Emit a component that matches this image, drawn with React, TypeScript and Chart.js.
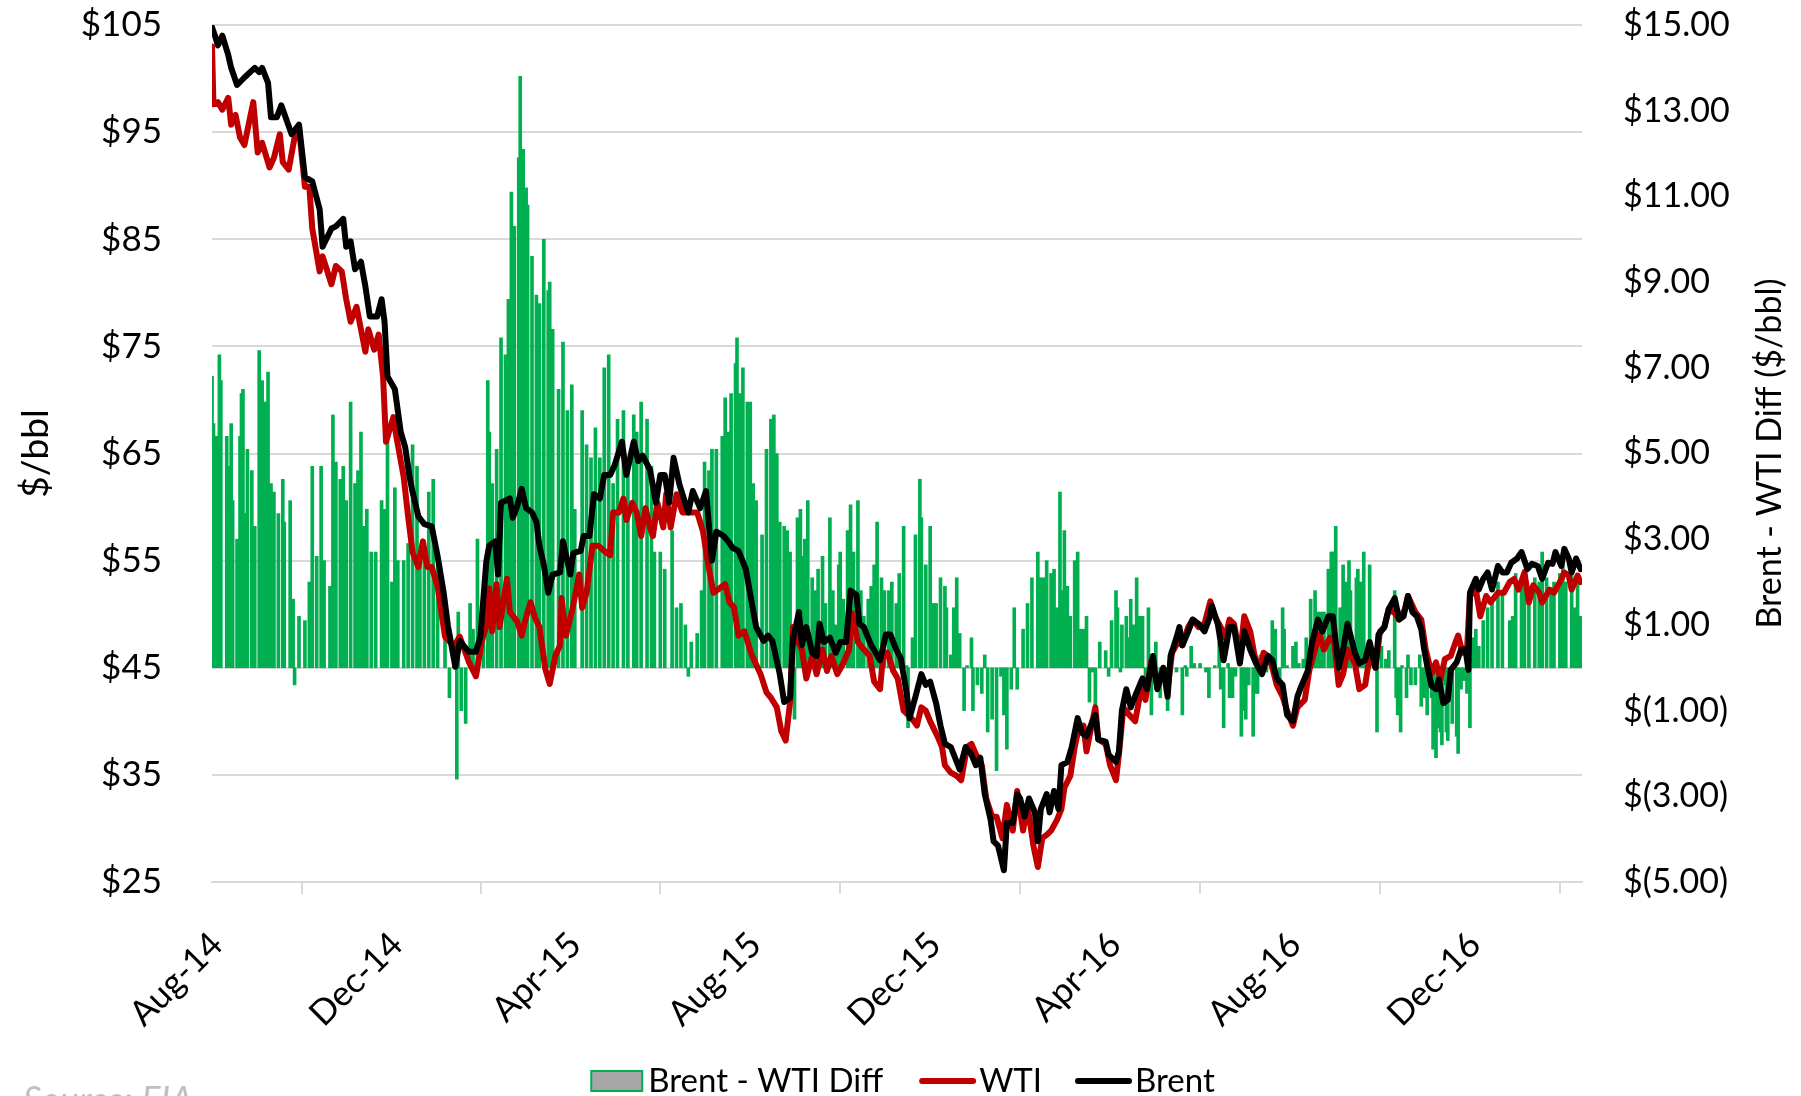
import React, { useEffect, useRef } from "react";
import { Chart, registerables } from "chart.js";

Chart.register(...registerables);

const FONT = "Lato, 'Open Sans', 'DejaVu Sans', sans-serif";

// x positions are days counted from 1 Aug 2014
const xTickDays = [0, 122, 243, 365, 487, 609, 731, 853];
const xTickLabels = ["Aug-14", "Dec-14", "Apr-15", "Aug-15", "Dec-15", "Apr-16", "Aug-16", "Dec-16"];
const xLastDay = 929;

const brentDays = [
  0, 2, 4, 7, 11, 13, 17, 22, 29, 32,
  34, 38, 40, 44, 47, 54, 59, 63, 68, 73,
  75, 81, 84, 89, 91, 94, 97, 101, 104, 107,
  112, 115, 117, 119, 124, 128, 131, 134, 136, 140,
  144, 149, 153, 157, 160, 165, 168, 174, 179, 182,
  186, 188, 192, 194, 196, 202, 204, 207, 210, 213,
  217, 220, 222, 225, 228, 231, 236, 238, 243, 245,
  250, 252, 256, 259, 263, 266, 270, 273, 278, 281,
  286, 289, 292, 297, 301, 304, 307, 310, 313, 317,
  319, 323, 326, 331, 335, 339, 342, 347, 350, 353,
  357, 362, 366, 369, 374, 377, 380, 385, 388, 392,
  394, 398, 400, 403, 407, 410, 412, 415, 419, 423,
  426, 430, 433, 437, 439, 442, 447, 450, 453, 457,
  460, 464, 467, 471, 473, 477, 481, 484, 487, 491,
  494, 497, 501, 503, 507, 511, 515, 518, 521, 524,
  528, 530, 533, 537, 539, 543, 546, 548, 551, 554,
  558, 560, 562, 566, 568, 571, 574, 576, 580, 583,
  587, 590, 593, 597, 599, 601, 606, 608, 613, 615,
  617, 620, 623, 627, 631, 634, 638, 641, 645, 648,
  650, 654, 656, 658, 662, 665, 669, 673, 676, 678,
  682, 686, 690, 693, 697, 700, 704, 708, 712, 716,
  719, 722, 726, 729, 733, 736, 739, 743, 746, 750,
  753, 757, 760, 764, 767, 770, 775, 778, 782, 785,
  789, 791, 795, 798, 802, 805, 808, 811, 814, 817,
  820, 822, 824, 827, 830, 832, 835, 838, 840, 844,
  847, 850, 852, 853, 857, 859, 862, 865, 868, 872,
  875, 878, 881, 885, 888, 892, 895, 899, 902, 906,
  909, 911, 915, 917, 920, 922, 925, 928,
];
const brentPrices = [
  104.8, 104, 103.1, 104, 102.2, 101, 99.4, 100.1, 101, 100.6,
  101, 99.6, 96.4, 96.4, 97.5, 94.8, 95.7, 90.8, 90.4, 87.8,
  84.3, 86, 86.2, 86.9, 84.3, 84.8, 82.2, 82.9, 80.6, 77.8,
  77.8, 79.4, 77.3, 72.2, 71, 67, 65.6, 62.8, 61.4, 59.1,
  58.4, 58.2, 55.4, 52.1, 48.9, 45.1, 47.5, 46.5, 46.5, 47.9,
  54.9, 56.4, 56.8, 53.7, 60.4, 60.8, 59, 60.1, 61.7, 59.9,
  59.5, 58.6, 56.4, 54.6, 52, 53.7, 53.9, 56.8, 53.7, 55.7,
  55.9, 57.3, 57.3, 61.2, 60.8, 63, 63, 63.9, 66.1, 63,
  66.1, 64.3, 64.8, 63.5, 60.4, 63, 63, 60.4, 64.6, 62.1,
  61.2, 59.5, 61.5, 59.9, 61.5, 55, 57.7, 57.3, 56.8, 56.2,
  55.9, 54.2, 51.1, 48.8, 47.5, 48, 47.5, 44.4, 41.8, 42.2,
  47.7, 50.2, 47.1, 48.8, 46.4, 46.1, 49.1, 47.4, 47.8, 46.4,
  47.4, 47.4, 52.2, 51.8, 49.1, 48.8, 47.1, 46.4, 45.7, 48.1,
  48.1, 46.7, 45.9, 42.7, 40.3, 42.3, 44.4, 43.4, 43.7, 41.7,
  39.6, 37.9, 37.6, 36.9, 35.5, 37.6, 36.9, 35.9, 36.6, 33.2,
  30.8, 28.8, 28.4, 26.1, 30.5, 30.5, 33.2, 32.8, 31.1, 32.8,
  31.5, 28.8, 31.8, 33.2, 31.5, 33.5, 31.8, 35.9, 36.2, 37.6,
  40.3, 38.9, 38.6, 40, 40.6, 38.3, 38.1, 36.9, 36.2, 37.2,
  41, 43, 41.3, 42.7, 44, 43, 46.1, 43, 45, 42.3,
  46.1, 47.8, 48.8, 47.1, 48.4, 49.5, 49.1, 48.4, 49.5, 50.8,
  49.1, 45.7, 48.8, 48.8, 45.4, 48.4, 46.7, 45.4, 44.4, 46.1,
  45.7, 44, 43.4, 40.6, 40, 42.3, 43.4, 44.7, 47.4, 49.5,
  48.4, 49.8, 49.8, 45, 46.7, 49.1, 46.4, 45.4, 45.7, 47.4,
  45, 48.1, 48.8, 50.5, 51.5, 49.5, 49.8, 51.7, 50.2, 49.8,
  48.6, 46.7, 45.2, 43.3, 43, 43.9, 41.7, 42, 44.8, 45.5,
  46.7, 46.7, 44.8, 52, 53.3, 52.3, 53.3, 53.9, 52.3, 54.5,
  53.9, 53.9, 54.8, 55.2, 55.8, 54.2, 54.7, 54.5, 53.3, 54.8,
  54.7, 55.8, 54.5, 56.1, 55.2, 53.9, 55.2, 54.2,
];

const wtiDays = [
  0, 1, 4, 7, 11, 13, 16, 19, 22, 28,
  31, 34, 39, 42, 46, 48, 52, 56, 59, 63,
  66, 68, 73, 75, 81, 84, 88, 91, 94, 98,
  104, 106, 110, 113, 116, 118, 123, 125, 130, 133,
  136, 140, 143, 146, 149, 153, 158, 164, 168, 174,
  179, 183, 186, 188, 190, 193, 195, 200, 202, 207,
  210, 213, 216, 219, 222, 226, 229, 233, 236, 237,
  240, 244, 249, 251, 254, 258, 262, 266, 270, 272,
  276, 279, 281, 285, 288, 291, 294, 297, 299, 302,
  306, 308, 311, 315, 319, 324, 329, 333, 336, 340,
  344, 348, 351, 354, 357, 361, 366, 369, 372, 376,
  379, 383, 386, 389, 392, 394, 396, 400, 403, 407,
  410, 414, 417, 420, 424, 428, 432, 434, 438, 442,
  446, 449, 453, 455, 458, 462, 465, 469, 472, 476,
  478, 481, 484, 487, 492, 495, 497, 501, 505, 508,
  512, 515, 519, 522, 525, 529, 532, 536, 539, 543,
  546, 550, 553, 557, 560, 563, 566, 569, 573, 576,
  578, 582, 585, 587, 591, 593, 597, 599, 601, 606,
  609, 613, 615, 618, 622, 626, 630, 633, 637, 641,
  645, 648, 651, 655, 658, 662, 665, 669, 673, 677,
  680, 684, 687, 690, 693, 697, 700, 704, 707, 711,
  713, 716, 719, 722, 726, 729, 733, 736, 741, 744,
  748, 751, 754, 758, 761, 764, 767, 770, 775, 778,
  782, 785, 789, 792, 795, 798, 802, 805, 809, 811,
  816, 820, 823, 827, 830, 833, 836, 840, 843, 845,
  848, 851, 853, 857, 860, 864, 867, 872, 876, 880,
  883, 886, 890, 893, 896, 900, 902, 907, 910, 914,
  917, 920, 922, 926, 928,
];
const wtiPrices = [
  103, 97.6, 97.8, 97.1, 98.2, 95.7, 96.6, 94.5, 93.8, 97.8,
  93.1, 94, 91.7, 92.6, 94.8, 92.2, 91.5, 94.5, 95.4, 89.9,
  89.9, 86, 82, 83.4, 80.8, 82.5, 82, 79.4, 77.3, 78.7,
  74.5, 76.6, 74.7, 76.1, 72.2, 66.1, 68.4, 66.6, 62.8, 59.1,
  55.8, 54.4, 56.8, 54.4, 54.4, 52.6, 47.9, 47, 47.9, 45.6,
  44.2, 47.5, 48.9, 52.4, 48.4, 52.8, 48.8, 53.3, 50.2, 49.3,
  48, 49.7, 51.1, 49.7, 48.8, 44.9, 43.5, 46.2, 47.1, 51.5,
  48, 50.2, 53.7, 50.6, 52, 56.4, 56.4, 55.9, 55.5, 59.5,
  59.5, 60.8, 58.8, 60.4, 59.5, 57.3, 59.9, 58.1, 57.3, 60.4,
  58.1, 61.2, 58.1, 61.2, 59.5, 59.5, 59.5, 57.7, 55, 52,
  52.4, 52.8, 51.1, 50.6, 48, 48.4, 46.2, 45.3, 44.4, 42.7,
  42.2, 41.3, 39.1, 38.2, 41.8, 48.8, 47.8, 46.7, 44, 46.1,
  44.4, 46.7, 44.7, 46.1, 44.4, 45.4, 46.7, 50.1, 47.4, 46.7,
  46.1, 43.7, 43, 46.1, 46.4, 44.7, 44, 41, 40.6, 40,
  39.6, 41.3, 41, 40, 38.6, 37.6, 35.9, 35.2, 34.9, 34.5,
  37.6, 37.9, 36.6, 35.9, 32.8, 31.1, 31.1, 29.1, 32.2, 29.8,
  33.5, 29.8, 32.2, 28.4, 26.4, 29.1, 29.4, 29.8, 30.8, 31.8,
  33.8, 34.9, 37.6, 38.9, 39.6, 37.2, 40, 41.3, 38.3, 37.9,
  35.9, 34.5, 36.9, 41.3, 40.6, 40, 43, 42, 45.7, 43.4,
  44.7, 43, 46.4, 47.4, 47.1, 48.8, 49.5, 48.8, 49.1, 51.2,
  49.8, 48.8, 47.8, 49.5, 49.1, 46.1, 49.8, 48.4, 46.1, 44.7,
  46.4, 46.1, 45, 43.4, 42.3, 41, 39.6, 41.3, 42, 44.7,
  46.7, 48.1, 46.7, 47.8, 47.4, 43.4, 44.4, 46.7, 45.4, 43,
  43.4, 46.1, 45, 48.4, 48.8, 50.5, 50.1, 49.5, 50.5, 51.7,
  50.2, 49.5, 46.7, 44.5, 45.5, 43.9, 45.8, 46.1, 47.3, 48,
  46.4, 46.7, 51.7, 52.3, 49.8, 51.7, 51.1, 52, 52, 53,
  53.3, 52.3, 53.9, 51.1, 52.7, 52, 51.1, 52.3, 52, 53,
  53.9, 53.6, 52.3, 53.6, 53,
];

const diffDays = [
  0, 1, 3, 5, 6, 10, 12, 13, 14, 17,
  19, 20, 21, 23, 24, 27, 29, 32, 34, 36,
  38, 40, 42, 45, 48, 49, 53, 55, 56, 59,
  63, 66, 68, 71, 74, 76, 80, 82, 84, 87,
  89, 91, 94, 97, 99, 101, 103, 105, 108, 111,
  115, 117, 119, 122, 124, 126, 130, 133, 136, 139,
  141, 144, 147, 150, 153, 158, 161, 164, 166, 167,
  169, 172, 175, 177, 180, 184, 187, 188, 190, 193,
  196, 199, 201, 203, 205, 208, 209, 211, 213, 214,
  217, 220, 222, 225, 228, 229, 231, 235, 238, 241,
  244, 246, 251, 254, 257, 260, 263, 266, 269, 272,
  275, 279, 282, 286, 288, 291, 295, 298, 300, 304,
  307, 312, 315, 318, 321, 323, 325, 329, 332, 334,
  337, 339, 342, 346, 348, 350, 352, 355, 356, 358,
  360, 363, 365, 367, 369, 373, 376, 379, 381, 383,
  385, 388, 390, 392, 395, 397, 399, 400, 402, 404,
  407, 409, 411, 414, 416, 419, 421, 423, 425, 426,
  428, 431, 433, 435, 438, 440, 442, 445, 447, 449,
  451, 454, 456, 459, 461, 464, 466, 469, 471, 472,
  475, 477, 480, 481, 484, 487, 489, 491, 494, 497,
  498, 501, 503, 505, 507, 510, 512, 515, 516, 519,
  522, 524, 526, 529, 532, 535, 537, 539, 542, 544,
  546, 550, 553, 556, 560, 562, 564, 566, 569, 571,
  573, 575, 577, 578, 580, 582, 585, 587, 589, 591,
  593, 595, 597, 599, 602, 606, 608, 610, 613, 614,
  616, 617, 620, 622, 623, 625, 627, 629, 631, 633,
  635, 637, 640, 643, 646, 648, 650, 654, 658, 660,
  661, 664, 666, 670, 674, 676, 680, 683, 684, 686,
  689, 690, 692, 694, 698, 699, 701, 703, 706, 707,
  709, 711, 715, 719, 721, 724, 726, 727, 729, 733,
  735, 737, 740, 742, 745, 748, 750, 752, 754, 757,
  759, 760, 762, 765, 767, 769, 771, 772, 776, 777,
  779, 781, 785, 788, 790, 793, 796, 798, 802, 803,
  804, 806, 807, 810, 811, 813, 816, 819, 820, 822,
  824, 827, 828, 830, 831, 833, 834, 836, 837, 838,
  840, 841, 844, 845, 847, 849, 851, 853, 854, 855,
  857, 859, 862, 865, 868, 872, 875, 880, 882, 884,
  888, 890, 893, 897, 900, 902, 905, 908, 910, 914,
  916, 918, 922, 924, 926, 928,
];
const diffValues = [
  6.8, 5.7, 5.4, 7.3, 6.7, 5.4, 4.7, 5.7, 3.9, 3.0,
  5.4, 6.4, 6.5, 3.6, 5.1, 4.6, 3.3, 7.4, 6.7, 6.2,
  6.9, 4.3, 4.1, 3.6, 4.4, 3.4, 3.9, 1.6, -0.4, 1.2,
  1.1, 2.0, 4.7, 2.6, 4.7, 2.5, 1.9, 5.9, 4.8, 4.4,
  4.7, 3.9, 6.2, 4.3, 4.6, 5.5, 3.3, 3.7, 2.7, 2.7,
  3.9, 3.7, 5.3, 2.0, 4.2, 2.5, 2.5, 2.9, 5.2, 4.7,
  2.5, 2.6, 4.1, 4.4, 2.4, 1.6, -0.7, 0.2, -2.6, 1.3,
  -1.0, -1.3, 1.5, 0.9, 3.0, 0.8, 6.7, 5.5, 4.3, 5.1,
  7.7, 7.3, 8.6, 11.1, 10.3, 11.9, 13.8, 12.1, 11.2, 10.8,
  9.6, 8.7, 8.5, 10, 8.8, 9, 7.9, 6.5, 7.6, 6.0,
  6.6, 3.7, 6.0, 5.2, 4.9, 5.6, 4.9, 7.0, 7.3, 4.3,
  5.8, 6.0, 4.6, 5.9, 5.5, 6.2, 5.8, 4.7, 2.7, 2.7,
  2.3, 3.2, 1.4, 1.5, 1.0, -0.2, 0.6, 0.8, 1.8, 4.8,
  4.6, 5.1, 5.1, 5.4, 6.3, 5.5, 6.4, 7.1, 7.7, 6.4,
  7.0, 6.2, 6.2, 4.3, 3.9, 3.1, 5.1, 5.8, 5.9, 5.0,
  3.4, 3.3, 3.2, 2.7, -1.2, 3.5, 3.7, 2.6, 3.0, 3.9,
  2.1, 1.8, 2.3, 2.6, 1.5, 3.5, 1.8, 1.0, 2.4, 2.7,
  1.6, 3.2, 3.8, 2.7, 3.9, 1.8, 1.2, 1.6, 1.9, 2.4,
  3.4, 2.1, 1.8, 1.8, 2.0, 1.5, 2.2, 3.3, 0.05, -1.4,
  0.7, 3.1, 4.4, 3.5, 2.4, 3.3, 1.5, 1.5, 2.1, 1.9,
  1.4, 0.3, 1.4, 2.1, 0.8, -1.0, 0.05, 0.7, -1.0, -0.4,
  -0.6, 0.3, -1.5, -1.2, -2.4, -0.2, -1.1, -1.9, -0.5, 1.4,
  -0.5, 0.9, 1.5, 2.1, 2.7, 2.1, 2.1, 2.5, 2.2, 2.3,
  1.4, 4.1, 1.8, 3.2, 1.9, 1.2, 2.5, 2.7, 0.9, 0.9,
  1.2, -0.8, -0.1, -0.9, 0.6, 0.4, -0.2, 1.1, 1.8, 1.4,
  -0.1, 1.0, 1.2, 0.7, 1.6, 1.0, 2.1, 1.2, 1.2, -0.6,
  1.4, -1.1, 0.6, -0.7, -0.1, -1.0, 0.4, -0.1, -1.1, 0.05,
  -0.2, 0.5, 0.1, 0.1, -0.1, -0.7, 0.05, 0.6, -0.5, -1.4,
  0.1, -0.7, -0.7, -0.2, -1.6, -1.0, -1.2, -0.4, -1.6, -0.6,
  -0.6, 0.3, -0.1, 1.1, 0.9, -0.4, 1.4, 0.9, 0.05, 0.5,
  0.6, 0.1, 0.2, 0.7, 1.6, 1.8, 1.3, 1.3, 1.3, 2.3,
  2.7, 2.7, 3.3, 1.4, 2.4, 2.0, 2.5, 1.8, 2.1, 2.3,
  2.0, 2.7, 2.4, 0.4, -1.5, 0.5, 0.2, 0.4, 1.8, -0.7,
  -1.1, -1.5, 0.05, -0.7, 0.3, -0.4, -0.4, 0.3, -0.9, -0.7,
  -1.1, -0.7, -1.9, -2.1, -1.4, -1.5, -1.8, -0.4, -1.5, -1.7,
  -0.7, -1.3, -1.6, -2.0, -0.5, -0.3, -0.6, -1.4, 0.2, 0.7,
  0.9, 0.5, 1.1, 1.4, 1.6, 2.0, 1.7, 1.1, 1.2, 2.2,
  1.9, 2.3, 1.9, 2.1, 2.0, 2.7, 2.1, 1.8, 2.0, 2.2,
  2.5, 2.0, 2.4, 1.4, 2.0, 1.2,
];

const leftTitle = "$/bbl";
const rightTitle = "Brent - WTI Diff ($/bbl)";
const sourceText = "Source: EIA";
const legendLabels = ["Brent - WTI Diff", "WTI", "Brent"];

const GREEN = "#00B050";
const RED = "#C00000";
const BLACK = "#000000";
const GRID = "#d9d9d9";

function toPoints(xs: number[], ys: number[]) {
  return xs.map((x, i) => ({ x, y: ys[i] }));
}

function money(v: number) {
  return v < 0 ? `$(${Math.abs(v).toFixed(2)})` : `$${v.toFixed(2)}`;
}

const extrasPlugin = {
  id: "extras",
  afterDraw(chart: any) {
    const ctx = chart.ctx as CanvasRenderingContext2D;
    const area = chart.chartArea;
    const midY = (area.top + area.bottom) / 2;
    ctx.save();
    ctx.fillStyle = "#000";
    ctx.textAlign = "center";
    ctx.textBaseline = "middle";

    ctx.save();
    ctx.font = `37px ${FONT}`;
    ctx.translate(36, midY);
    ctx.rotate(-Math.PI / 2);
    ctx.fillText(leftTitle, 0, 0);
    ctx.restore();

    ctx.save();
    ctx.font = `34px ${FONT}`;
    ctx.translate(1770, midY);
    ctx.rotate(-Math.PI / 2);
    ctx.fillText(rightTitle, 0, 0);
    ctx.restore();

    // legend
    ctx.font = `33px ${FONT}`;
    ctx.textAlign = "left";
    const ly = 1081;
    const w0 = ctx.measureText(legendLabels[0]).width;
    const w1 = ctx.measureText(legendLabels[1]).width;
    const w2 = ctx.measureText(legendLabels[2]).width;
    const total = 51 + 6 + w0 + 37 + 55 + 4 + w1 + 34 + 55 + 4 + w2;
    let x = 903 - total / 2;
    ctx.fillStyle = "#a6a6a6";
    ctx.fillRect(x, ly - 10, 51, 20);
    ctx.strokeStyle = GREEN;
    ctx.lineWidth = 2;
    ctx.strokeRect(x, ly - 10, 51, 20);
    x += 57;
    ctx.fillStyle = "#000";
    ctx.fillText(legendLabels[0], x, ly);
    x += w0 + 37;
    ctx.lineCap = "round";
    ctx.lineWidth = 6;
    ctx.strokeStyle = RED;
    ctx.beginPath();
    ctx.moveTo(x + 2, ly);
    ctx.lineTo(x + 53, ly);
    ctx.stroke();
    x += 59;
    ctx.fillText(legendLabels[1], x, ly);
    x += w1 + 34;
    ctx.strokeStyle = BLACK;
    ctx.beginPath();
    ctx.moveTo(x + 2, ly);
    ctx.lineTo(x + 53, ly);
    ctx.stroke();
    x += 59;
    ctx.fillText(legendLabels[2], x, ly);

    // source note
    ctx.font = `italic 36px ${FONT}`;
    ctx.fillStyle = "#bfbfbf";
    ctx.textBaseline = "alphabetic";
    ctx.fillText(sourceText, 23, 1113);
    ctx.restore();
  },
};

export default function App() {
  const ref = useRef<HTMLCanvasElement>(null);

  useEffect(() => {
    if (!ref.current) return;
    const chart = new Chart(ref.current, {
      type: "bar",
      data: {
        datasets: [
          {
            type: "line",
            label: "Brent",
            data: toPoints(brentDays, brentPrices),
            borderColor: BLACK,
            backgroundColor: BLACK,
            borderWidth: 6,
            pointRadius: 0,
            tension: 0,
            borderJoinStyle: "round",
            borderCapStyle: "round",
            yAxisID: "y",
            order: 1,
          } as any,
          {
            type: "line",
            label: "WTI",
            data: toPoints(wtiDays, wtiPrices),
            borderColor: RED,
            backgroundColor: RED,
            borderWidth: 6,
            pointRadius: 0,
            tension: 0,
            borderJoinStyle: "round",
            borderCapStyle: "round",
            yAxisID: "y",
            order: 2,
          } as any,
          {
            type: "bar",
            label: "Brent - WTI Diff",
            data: toPoints(diffDays, diffValues),
            backgroundColor: GREEN,
            borderWidth: 0,
            barThickness: 3,
            yAxisID: "y2",
            order: 3,
          } as any,
        ],
      },
      options: {
        responsive: false,
        animation: false,
        devicePixelRatio: 1,
        layout: { padding: { top: 25, left: 0, right: 0, bottom: 0 } },
        plugins: { legend: { display: false }, tooltip: { enabled: false } },
        scales: {
          x: {
            type: "linear",
            min: 0,
            max: xLastDay,
            offset: false,
            afterBuildTicks: (scale: any) => {
              scale.ticks = xTickDays.map((v) => ({ value: v }));
            },
            afterFit: (scale: any) => {
              scale.height = 214;
              scale.paddingLeft = 0;
              scale.paddingRight = 0;
            },
            ticks: {
              autoSkip: false,
              minRotation: 45,
              maxRotation: 45,
              padding: 30,
              labelOffset: 5,
              color: "#000",
              font: { family: FONT, size: 35 },
              callback: (v: any) => {
                const i = xTickDays.indexOf(Number(v));
                return i >= 0 ? xTickLabels[i] : "";
              },
            },
            grid: {
              display: true,
              drawOnChartArea: false,
              drawTicks: true,
              tickLength: 12,
              color: GRID,
              lineWidth: 2,
            },
            border: { display: true, color: GRID, width: 2 },
          },
          y: {
            position: "left",
            min: 25,
            max: 105,
            afterFit: (scale: any) => {
              scale.width = 212;
              scale.paddingTop = 0;
              scale.paddingBottom = 0;
            },
            ticks: {
              stepSize: 10,
              padding: 50,
              color: "#000",
              font: { family: FONT, size: 35 },
              callback: (v: any) => `$${v}`,
            },
            grid: { color: GRID, lineWidth: 2, drawTicks: false },
            border: { display: false },
          },
          y2: {
            position: "right",
            min: -5,
            max: 15,
            afterFit: (scale: any) => {
              scale.width = 219;
              scale.paddingTop = 0;
              scale.paddingBottom = 0;
            },
            ticks: {
              stepSize: 2,
              padding: 41,
              color: "#000",
              font: { family: FONT, size: 34 },
              callback: (v: any) => money(Number(v)),
            },
            grid: { display: false, drawTicks: false },
            border: { display: false },
          },
        },
      } as any,
      plugins: [extrasPlugin],
    });
    return () => chart.destroy();
  }, []);

  return (
    <div style={{ position: "fixed", left: 0, top: 0, width: 1801, height: 1096, background: "#fff" }}>
      <canvas ref={ref} width={1801} height={1096} style={{ display: "block" }} />
    </div>
  );
}
